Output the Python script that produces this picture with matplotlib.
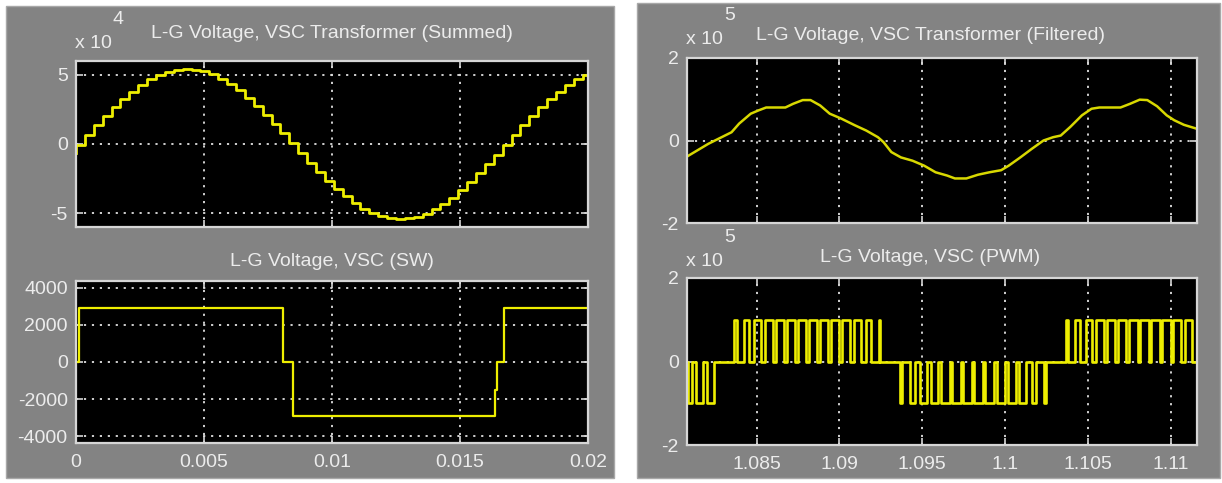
import matplotlib

matplotlib.use("Agg")

import matplotlib.pyplot as plt
import numpy as np
from matplotlib.patches import Rectangle

FIG_W, FIG_H = 1222, 483

# L-G voltage, VSC transformer (summed), in units of 1e4 V.
# One staircase level every 1/2880 s starting at t = 0.
SUMMED_STEP = 1 / 2880
summed_start = -0.65
summed_levels = [
    -0.05, 0.65, 1.35, 2.02, 2.66, 3.26, 3.79, 4.27, 4.67, 4.99,
    5.22, 5.37, 5.42, 5.38, 5.25, 5.03, 4.72, 4.33, 3.87, 3.34,
    2.76, 2.12, 1.45, 0.76, 0.05, -0.65, -1.35, -2.02, -2.66, -3.26,
    -3.79, -4.27, -4.67, -4.99, -5.22, -5.37, -5.42, -5.38, -5.25, -5.03,
    -4.72, -4.33, -3.87, -3.34, -2.76, -2.12, -1.45, -0.76, -0.05, 0.65,
    1.35, 2.02, 2.66, 3.26, 3.79, 4.27, 4.67, 4.99,
]

# L-G voltage, VSC (SW): switching instants (s) and levels (V)
sw_edges = [0.0, 0.00012, 0.0081, 0.00846, 0.01637, 0.01645, 0.01671, 0.02]
sw_levels = [0, 2900, 0, -2900, -1500, 0, 2900, 2900]

# L-G voltage, VSC transformer (filtered), in units of 1e5 V
filtered_t = [
    1.08088, 1.08209, 1.08349, 1.08395, 1.08465, 1.08512, 1.08558, 1.08674,
    1.08721, 1.08779, 1.08826, 1.08884, 1.08942, 1.09012, 1.09093, 1.09163,
    1.09233, 1.09267, 1.09314, 1.09372, 1.09442, 1.09512, 1.09581, 1.09651,
    1.09698, 1.09767, 1.09837, 1.09907, 1.09977, 1.10023, 1.10093, 1.10163,
    1.10233, 1.10291, 1.10337, 1.10395, 1.10465, 1.10523, 1.10570, 1.10698,
    1.10756, 1.10814, 1.10860, 1.10919, 1.10977, 1.11023, 1.11081, 1.11163,
]
filtered_v = [
    -0.37, -0.08, 0.20, 0.41, 0.65, 0.73, 0.80, 0.80,
    0.89, 0.98, 0.98, 0.85, 0.65, 0.53, 0.37, 0.24,
    0.08, -0.04, -0.28, -0.41, -0.49, -0.61, -0.77, -0.85,
    -0.92, -0.92, -0.83, -0.77, -0.72, -0.61, -0.41, -0.20,
    0.00, 0.08, 0.12, 0.33, 0.61, 0.77, 0.80, 0.80,
    0.89, 0.99, 0.98, 0.83, 0.61, 0.49, 0.38, 0.28,
]

# L-G voltage, VSC (PWM): pulse start/end times (s), level in units of 1e5 V
PWM_LEVEL = 1.0
pwm_pos_on = [
    1.08366, 1.08425, 1.08487, 1.08551, 1.08616, 1.08681, 1.08748,
    1.08815, 1.08882, 1.08950, 1.09018, 1.09088, 1.09161, 1.09237,
    1.10366, 1.10425, 1.10487, 1.10551, 1.10616, 1.10681, 1.10748,
    1.10815, 1.10882, 1.10950, 1.11018, 1.11088,
]
pwm_pos_off = [
    1.08380, 1.08455, 1.08527, 1.08597, 1.08666, 1.08733, 1.08801,
    1.08868, 1.08934, 1.09000, 1.09064, 1.09128, 1.09189, 1.09247,
    1.10380, 1.10455, 1.10527, 1.10597, 1.10666, 1.10733, 1.10801,
    1.10868, 1.10934, 1.11000, 1.11064, 1.11128,
]
pwm_neg_on = [
    1.08086, 1.08134, 1.08200,
    1.09366, 1.09425, 1.09487, 1.09551, 1.09616, 1.09681, 1.09748,
    1.09815, 1.09882, 1.09950, 1.10018, 1.10088, 1.10161, 1.10237,
]
pwm_neg_off = [
    1.08110, 1.08176, 1.08243,
    1.09380, 1.09455, 1.09527, 1.09597, 1.09666, 1.09733, 1.09801,
    1.09868, 1.09934, 1.10000, 1.10064, 1.10128, 1.10189, 1.10247,
]

LEFT_XTICKS = [0, 0.005, 0.01, 0.015, 0.02]
LEFT_XLABELS = ["0", "0.005", "0.01", "0.015", "0.02"]
RIGHT_XTICKS = [1.085, 1.09, 1.095, 1.1, 1.105, 1.11]
RIGHT_XLABELS = ["1.085", "1.09", "1.095", "1.1", "1.105", "1.11"]

PANEL = "#838383"
TEXT = "#ececec"
FRAME = "#d6d6d6"
TRACE = "#eeee00"

plt.rcParams["font.family"] = ["Liberation Sans", "DejaVu Sans"]
plt.rcParams["axes.unicode_minus"] = False


def box(x0, y0, x1, y1):
    """Pixel box (top-left origin) -> figure rect."""
    return [x0 / FIG_W, 1 - y1 / FIG_H, (x1 - x0) / FIG_W, (y1 - y0) / FIG_H]


def fig_text(fig, x, y, s, **kw):
    kw.setdefault("color", TEXT)
    kw.setdefault("fontsize", 14)
    fig.text(x / FIG_W, 1 - y / FIG_H, s, **kw)


def scope_axes(fig, rect, xlim, ylim, xticks, yticks):
    ax = fig.add_axes(box(*rect))
    ax.set_facecolor("black")
    ax.set_xlim(*xlim)
    ax.set_ylim(*ylim)
    ax.set_xticks(xticks)
    ax.set_yticks(yticks)
    for sp in ax.spines.values():
        sp.set_color(FRAME)
        sp.set_linewidth(1.6)
    ax.tick_params(direction="in", length=5, width=1.2, color=FRAME,
                   labelcolor=TEXT, labelsize=14, top=True, right=True)
    ax.tick_params(axis="x", pad=8)
    ax.tick_params(axis="y", pad=6)
    ax.grid(True, color="#e0e0e0", linestyle=(0, (1.2, 3.2)), linewidth=1.3)
    ax.set_axisbelow(True)
    return ax


def pwm_wave(t0, t1):
    pulses = [(a, b, PWM_LEVEL) for a, b in zip(pwm_pos_on, pwm_pos_off)]
    pulses += [(a, b, -PWM_LEVEL) for a, b in zip(pwm_neg_on, pwm_neg_off)]
    pulses.sort()
    t, v = [t0], [0.0]
    for a, b, lev in pulses:
        t += [a, a, b, b]
        v += [0.0, lev, lev, 0.0]
    t.append(t1)
    v.append(0.0)
    return np.array(t), np.array(v)


fig = plt.figure(figsize=(FIG_W / 100, FIG_H / 100), dpi=100, facecolor="white")

# grey scope panels
for x0, y0, x1, y1 in [(6, 6, 614, 478), (637, 3, 1220, 478)]:
    fig.patches.append(Rectangle((x0 / FIG_W, 1 - y1 / FIG_H), (x1 - x0) / FIG_W,
                                 (y1 - y0) / FIG_H, transform=fig.transFigure,
                                 facecolor=PANEL, edgecolor="#a8a8a8",
                                 linewidth=1.0, zorder=-10))

# summed transformer voltage
ax = scope_axes(fig, (76, 61, 588, 227), (0, 0.02), (-6, 6), LEFT_XTICKS, [-5, 0, 5])
ax.set_xticklabels([])
t_sum = np.concatenate([[0.0], np.arange(len(summed_levels)) * SUMMED_STEP, [0.02]])
v_sum = np.concatenate([[summed_start], summed_levels, [summed_levels[-1]]])
ax.plot(t_sum, v_sum, drawstyle="steps-post", color=TRACE, linewidth=2.0)
fig_text(fig, 332, 34, "L-G Voltage, VSC Transformer (Summed)", ha="center", va="center")
fig_text(fig, 75, 44, "x 10", ha="left", va="center")
fig_text(fig, 113, 20, "4", ha="left", va="center")

# two-level switched voltage
ax = scope_axes(fig, (76, 281, 588, 443), (0, 0.02), (-4350, 4350), LEFT_XTICKS,
                [-4000, -2000, 0, 2000, 4000])
ax.set_xticklabels(LEFT_XLABELS)
ax.plot(sw_edges, sw_levels, drawstyle="steps-post", color=TRACE, linewidth=1.6)
fig_text(fig, 332, 262, "L-G Voltage, VSC (SW)", ha="center", va="center")

# filtered transformer voltage
ax = scope_axes(fig, (687, 58, 1197, 223), (1.0808, 1.1116), (-2, 2), RIGHT_XTICKS, [-2, 0, 2])
ax.set_xticklabels([])
ax.plot(filtered_t, filtered_v, color="#d8d800", linewidth=1.8)
fig_text(fig, 930, 36, "L-G Voltage, VSC Transformer (Filtered)", ha="center", va="center")
fig_text(fig, 686, 40, "x 10", ha="left", va="center")
fig_text(fig, 724, 15, "5", ha="left", va="center")

# PWM voltage
ax = scope_axes(fig, (687, 278, 1197, 445), (1.0808, 1.1116), (-2, 2), RIGHT_XTICKS, [-2, 0, 2])
ax.set_xticklabels(RIGHT_XLABELS)
t_pwm, v_pwm = pwm_wave(1.0808, 1.1116)
ax.plot(t_pwm, v_pwm, color=TRACE, linewidth=1.9)
fig_text(fig, 930, 258, "L-G Voltage, VSC (PWM)", ha="center", va="center")
fig_text(fig, 686, 262, "x 10", ha="left", va="center")
fig_text(fig, 724, 238, "5", ha="left", va="center")

fig.savefig("out.png", dpi=100, facecolor=fig.get_facecolor())
